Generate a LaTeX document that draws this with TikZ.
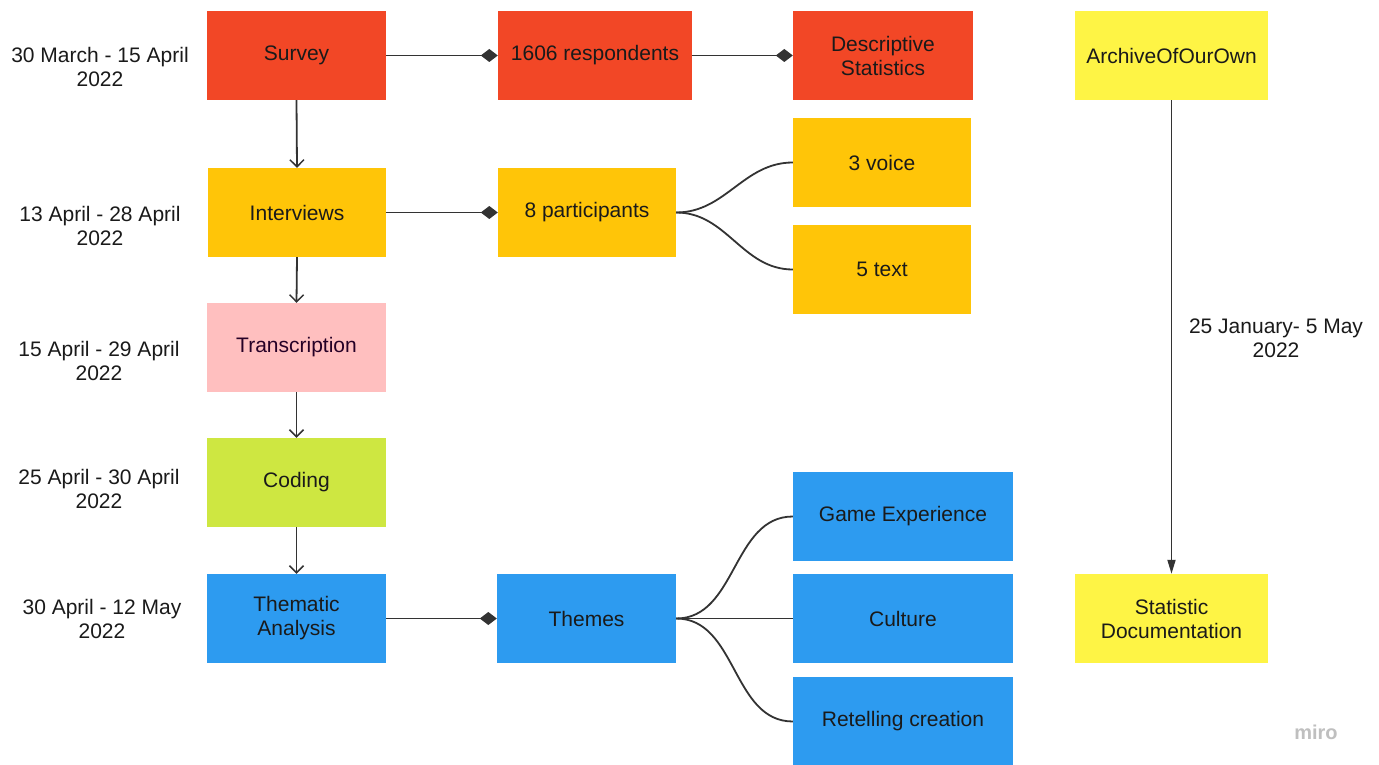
\documentclass[tikz,border=0pt]{standalone}
\usepackage{fontspec}
\setmainfont{Liberation Sans}
\usetikzlibrary{arrows.meta}
\definecolor{mred}{HTML}{F24726}
\definecolor{morange}{HTML}{FFC508}
\definecolor{mpink}{HTML}{FFBFBF}
\definecolor{mgreen}{HTML}{CEE741}
\definecolor{mblue}{HTML}{2D9BF0}
\definecolor{myellow}{HTML}{FEF445}
\definecolor{mtext}{HTML}{1A1A1A}
\definecolor{mline}{HTML}{333333}
\begin{document}
\begin{tikzpicture}[x=1pt,y=-1pt,
  box/.style={draw=none, inner sep=0pt, align=center, text=mtext,
    font=\fontsize{21}{24}\selectfont, minimum height=89pt},
  datelbl/.style={inner sep=0pt, align=center, text=mtext, font=\fontsize{21}{24}\selectfont},
  conn/.style={draw=mline, line width=1.8pt},
  openarr/.style={conn, -{Straight Barb[length=7pt,width=14pt,line width=1.5pt]}},
  diaarr/.style={conn, -{Diamond[length=17pt,width=13pt]}},
  triarr/.style={conn, -{Triangle[length=14pt,width=8pt]}}
]
\useasboundingbox[fill=white] (0,0) rectangle (1379,765);

% left column
\node[box, fill=mred, minimum width=179pt] (survey) at (296.5,55.5) {Survey};
\node[box, fill=morange, minimum width=178pt] (interviews) at (297,212.5) {Interviews};
\node[box, fill=mpink, minimum width=179pt, text=black!70!violet] (transcription) at (296.5,347.5) {Transcription};
\node[box, fill=mgreen, minimum width=179pt] (coding) at (296.5,482.5) {Coding};
\node[box, fill=mblue, minimum width=179pt] (thematic) at (296.5,618.5) {Thematic\\Analysis};

% second column
\node[box, fill=mred, minimum width=194pt] (resp) at (595,55.5) {1606 respondents};
\node[box, fill=morange, minimum width=178pt] (part) at (587,212.5) {8 participants};
\node[box, fill=mblue, minimum width=179pt] (themes) at (586.5,618.5) {Themes};

% third column
\node[box, fill=mred, minimum width=180pt] (desc) at (883,55.5) {Descriptive\\Statistics};
\node[box, fill=morange, minimum width=178pt] (voice) at (882,162.5) {3 voice};
\node[box, fill=morange, minimum width=178pt] (textb) at (882,269.5) {5 text};
\node[box, fill=mblue, minimum width=220pt] (game) at (903,516.5) {Game Experience};
\node[box, fill=mblue, minimum width=220pt] (culture) at (903,618.5) {Culture};
\node[box, fill=mblue, minimum width=220pt] (retell) at (903,721.5) {Retelling creation};

% right column
\node[box, fill=myellow, minimum width=193pt] (ao3) at (1171.5,55.5) {ArchiveOfOurOwn};
\node[box, fill=myellow, minimum width=193pt] (statdoc) at (1171.5,618.5) {Statistic\\Documentation};

% dates
\node[datelbl] (d1) at (100,67) {30 March - 15 April\\2022};
\node[datelbl] (d2) at (100,226) {13 April - 28 April\\2022};
\node[datelbl] (d3) at (99,361) {15 April - 29 April\\2022};
\node[datelbl] (d4) at (99,489) {25 April - 30 April\\2022};
\node[datelbl] (d5) at (102,619) {30 April - 12 May\\2022};
\node[datelbl] (d6) at (1276,338) {25 January- 5 May\\2022};

% miro mark
\node[inner sep=0pt, text=black!25, font=\fontsize{20}{20}\selectfont\bfseries] (miro) at (1316,732) {miro};

% connectors
\draw[openarr] (survey.south) -- (interviews.north);
\draw[openarr] (interviews.south) -- (transcription.north);
\draw[openarr] (transcription.south) -- (coding.north);
\draw[openarr] (coding.south) -- (thematic.north);

\draw[diaarr] (survey.east) -- (resp.west);
\draw[diaarr] (resp.east) -- (desc.west);
\draw[diaarr] (interviews.east) -- (part.west);
\draw[diaarr] (thematic.east) -- (themes.west);

\draw[conn] (part.east) to[out=0,in=180] (voice.west);
\draw[conn] (part.east) to[out=0,in=180] (textb.west);
\draw[conn] (themes.east) to[out=0,in=180] (game.west);
\draw[conn] (themes.east) -- (culture.west);
\draw[conn] (themes.east) to[out=0,in=180] (retell.west);

\draw[triarr] (ao3.south) -- (statdoc.north);
\end{tikzpicture}
\end{document}
